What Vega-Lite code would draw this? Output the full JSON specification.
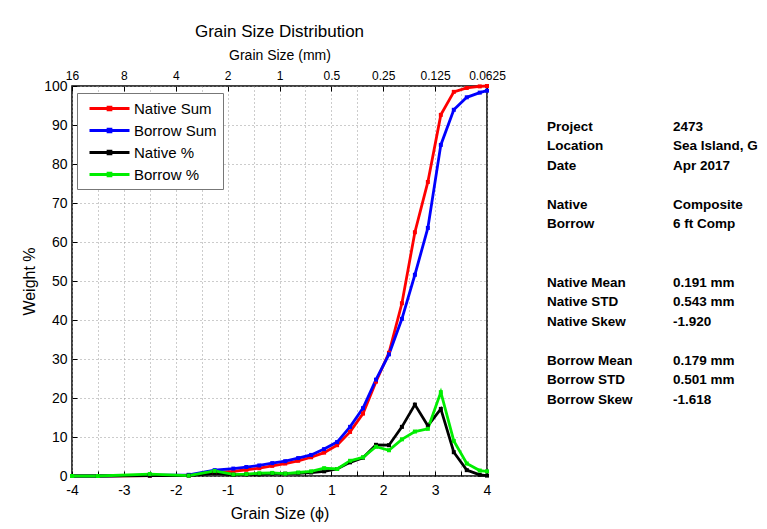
{
  "$schema": "https://vega.github.io/schema/vega-lite/v6.json",
  "padding": {"left": 20, "top": 22, "right": 0, "bottom": 0},
  "background": "white",
  "bounds": "flush",
  "spacing": 60,
  "config": {
    "font": "Liberation Sans",
    "view": {"stroke": null},
    "axis": {"labelColor": "black", "titleColor": "black", "titleFontWeight": "normal", "labelFont": "Liberation Sans", "titleFont": "Liberation Sans", "tickColor": "black", "tickWidth": 1}
  },
  "datasets": {
    "curves": [
      {"phi": -4, "series": "Native Sum", "value": 0},
      {"phi": -3.5, "series": "Native Sum", "value": 0},
      {"phi": -2.5, "series": "Native Sum", "value": 0.1},
      {"phi": -1.75, "series": "Native Sum", "value": 0.2},
      {"phi": -1.25, "series": "Native Sum", "value": 0.9},
      {"phi": -0.89, "series": "Native Sum", "value": 1.2},
      {"phi": -0.64, "series": "Native Sum", "value": 1.6},
      {"phi": -0.39, "series": "Native Sum", "value": 2.0},
      {"phi": -0.14, "series": "Native Sum", "value": 2.6},
      {"phi": 0.11, "series": "Native Sum", "value": 3.2},
      {"phi": 0.36, "series": "Native Sum", "value": 3.9},
      {"phi": 0.61, "series": "Native Sum", "value": 4.8},
      {"phi": 0.86, "series": "Native Sum", "value": 6.0},
      {"phi": 1.11, "series": "Native Sum", "value": 7.9},
      {"phi": 1.36, "series": "Native Sum", "value": 11.3},
      {"phi": 1.61, "series": "Native Sum", "value": 16.0},
      {"phi": 1.86, "series": "Native Sum", "value": 24.2},
      {"phi": 2.11, "series": "Native Sum", "value": 31.6},
      {"phi": 2.36, "series": "Native Sum", "value": 44.3},
      {"phi": 2.61, "series": "Native Sum", "value": 62.5},
      {"phi": 2.86, "series": "Native Sum", "value": 75.4},
      {"phi": 3.11, "series": "Native Sum", "value": 92.6},
      {"phi": 3.36, "series": "Native Sum", "value": 98.5},
      {"phi": 3.61, "series": "Native Sum", "value": 99.5},
      {"phi": 3.86, "series": "Native Sum", "value": 99.9},
      {"phi": 4, "series": "Native Sum", "value": 100},
      {"phi": -4, "series": "Borrow Sum", "value": 0},
      {"phi": -3.5, "series": "Borrow Sum", "value": 0},
      {"phi": -2.5, "series": "Borrow Sum", "value": 0.2},
      {"phi": -1.75, "series": "Borrow Sum", "value": 0.3},
      {"phi": -1.25, "series": "Borrow Sum", "value": 1.5},
      {"phi": -0.89, "series": "Borrow Sum", "value": 1.9},
      {"phi": -0.64, "series": "Borrow Sum", "value": 2.3},
      {"phi": -0.39, "series": "Borrow Sum", "value": 2.7},
      {"phi": -0.14, "series": "Borrow Sum", "value": 3.3},
      {"phi": 0.11, "series": "Borrow Sum", "value": 3.8},
      {"phi": 0.36, "series": "Borrow Sum", "value": 4.6},
      {"phi": 0.61, "series": "Borrow Sum", "value": 5.4},
      {"phi": 0.86, "series": "Borrow Sum", "value": 6.9},
      {"phi": 1.11, "series": "Borrow Sum", "value": 8.7},
      {"phi": 1.36, "series": "Borrow Sum", "value": 12.6},
      {"phi": 1.61, "series": "Borrow Sum", "value": 17.4},
      {"phi": 1.86, "series": "Borrow Sum", "value": 24.7},
      {"phi": 2.11, "series": "Borrow Sum", "value": 31.2},
      {"phi": 2.36, "series": "Borrow Sum", "value": 40.3},
      {"phi": 2.61, "series": "Borrow Sum", "value": 51.6},
      {"phi": 2.86, "series": "Borrow Sum", "value": 63.6},
      {"phi": 3.11, "series": "Borrow Sum", "value": 84.9},
      {"phi": 3.36, "series": "Borrow Sum", "value": 93.9},
      {"phi": 3.61, "series": "Borrow Sum", "value": 97.1},
      {"phi": 3.86, "series": "Borrow Sum", "value": 98.3},
      {"phi": 4, "series": "Borrow Sum", "value": 98.8},
      {"phi": -4, "series": "Native %", "value": 0},
      {"phi": -3.5, "series": "Native %", "value": 0},
      {"phi": -2.5, "series": "Native %", "value": 0.1},
      {"phi": -1.75, "series": "Native %", "value": 0.1},
      {"phi": -1.25, "series": "Native %", "value": 0.7},
      {"phi": -0.89, "series": "Native %", "value": 0.3},
      {"phi": -0.64, "series": "Native %", "value": 0.4},
      {"phi": -0.39, "series": "Native %", "value": 0.4},
      {"phi": -0.14, "series": "Native %", "value": 0.6},
      {"phi": 0.11, "series": "Native %", "value": 0.6},
      {"phi": 0.36, "series": "Native %", "value": 0.7},
      {"phi": 0.61, "series": "Native %", "value": 0.9},
      {"phi": 0.86, "series": "Native %", "value": 1.2},
      {"phi": 1.11, "series": "Native %", "value": 1.8},
      {"phi": 1.36, "series": "Native %", "value": 3.5},
      {"phi": 1.61, "series": "Native %", "value": 4.7},
      {"phi": 1.86, "series": "Native %", "value": 8.0},
      {"phi": 2.11, "series": "Native %", "value": 7.9},
      {"phi": 2.36, "series": "Native %", "value": 12.6},
      {"phi": 2.61, "series": "Native %", "value": 18.3},
      {"phi": 2.86, "series": "Native %", "value": 12.9},
      {"phi": 3.11, "series": "Native %", "value": 17.2},
      {"phi": 3.36, "series": "Native %", "value": 6.1},
      {"phi": 3.61, "series": "Native %", "value": 1.5},
      {"phi": 3.86, "series": "Native %", "value": 0.3},
      {"phi": 4, "series": "Native %", "value": 0.1},
      {"phi": -4, "series": "Borrow %", "value": 0},
      {"phi": -3.5, "series": "Borrow %", "value": 0},
      {"phi": -2.5, "series": "Borrow %", "value": 0.5},
      {"phi": -1.75, "series": "Borrow %", "value": 0.1},
      {"phi": -1.25, "series": "Borrow %", "value": 1.3},
      {"phi": -0.89, "series": "Borrow %", "value": 0.4},
      {"phi": -0.64, "series": "Borrow %", "value": 0.5},
      {"phi": -0.39, "series": "Borrow %", "value": 0.7},
      {"phi": -0.14, "series": "Borrow %", "value": 0.8},
      {"phi": 0.11, "series": "Borrow %", "value": 0.6},
      {"phi": 0.36, "series": "Borrow %", "value": 0.9},
      {"phi": 0.61, "series": "Borrow %", "value": 1.2},
      {"phi": 0.86, "series": "Borrow %", "value": 2.0},
      {"phi": 1.11, "series": "Borrow %", "value": 1.8},
      {"phi": 1.36, "series": "Borrow %", "value": 3.9},
      {"phi": 1.61, "series": "Borrow %", "value": 4.8},
      {"phi": 1.86, "series": "Borrow %", "value": 7.5},
      {"phi": 2.11, "series": "Borrow %", "value": 6.6},
      {"phi": 2.36, "series": "Borrow %", "value": 9.4},
      {"phi": 2.61, "series": "Borrow %", "value": 11.4},
      {"phi": 2.86, "series": "Borrow %", "value": 12.1},
      {"phi": 3.11, "series": "Borrow %", "value": 21.5},
      {"phi": 3.36, "series": "Borrow %", "value": 9.0},
      {"phi": 3.61, "series": "Borrow %", "value": 3.2},
      {"phi": 3.86, "series": "Borrow %", "value": 1.4},
      {"phi": 4, "series": "Borrow %", "value": 1.2}
    ],
    "info": [
      {"kind": "label", "line": 0, "text": "Project"},
      {"kind": "value", "line": 0, "text": "2473"},
      {"kind": "label", "line": 1, "text": "Location"},
      {"kind": "value", "line": 1, "text": "Sea Island, GA"},
      {"kind": "label", "line": 2, "text": "Date"},
      {"kind": "value", "line": 2, "text": "Apr 2017"},
      {"kind": "label", "line": 4, "text": "Native"},
      {"kind": "value", "line": 4, "text": "Composite"},
      {"kind": "label", "line": 5, "text": "Borrow"},
      {"kind": "value", "line": 5, "text": "6 ft Comp"},
      {"kind": "label", "line": 8, "text": "Native Mean"},
      {"kind": "value", "line": 8, "text": "\u00a00.191 mm"},
      {"kind": "label", "line": 9, "text": "Native STD"},
      {"kind": "value", "line": 9, "text": "\u00a00.543 mm"},
      {"kind": "label", "line": 10, "text": "Native Skew"},
      {"kind": "value", "line": 10, "text": "-1.920"},
      {"kind": "label", "line": 12, "text": "Borrow Mean"},
      {"kind": "value", "line": 12, "text": "\u00a00.179 mm"},
      {"kind": "label", "line": 13, "text": "Borrow STD"},
      {"kind": "value", "line": 13, "text": "\u00a00.501 mm"},
      {"kind": "label", "line": 14, "text": "Borrow Skew"},
      {"kind": "value", "line": 14, "text": "-1.618"}
    ]
  },
  "hconcat": [
    {
      "width": 415,
      "height": 390,
      "title": {"text": "Grain Size Distribution", "fontSize": 17, "fontWeight": "normal", "font": "Liberation Sans", "color": "black", "offset": 7, "anchor": "middle"},
      "view": {"stroke": "black", "strokeWidth": 1.5},
      "layer": [
        {
          "mark": {"type": "rule", "color": "black", "strokeWidth": 1.5},
          "encoding": {
            "x": {
              "datum": 0, "type": "quantitative",
              "scale": {"domain": [-4, 4], "nice": false, "zero": false},
              "axis": {"orient": "top", "values": [-4, -3, -2, -1, 0, 1, 2, 3, 4], "labelExpr": "'' + pow(2, -datum.value)", "title": "Grain Size (mm)", "grid": false, "ticks": true, "tickSize": -5, "domain": false, "labelFontSize": 12, "labelPadding": 9, "titleFontSize": 14, "titlePadding": 7, "labelFlush": false}
            }
          }
        },
        {
          "mark": {"type": "rule", "color": "black", "strokeWidth": 1.5},
          "encoding": {
            "y": {
              "datum": 50, "type": "quantitative",
              "scale": {"domain": [0, 100], "nice": false},
              "axis": {"values": [0, 10, 20, 30, 40, 50, 60, 70, 80, 90, 100], "title": "Weight %", "grid": true, "gridDash": [1, 3], "gridColor": "#999999", "ticks": true, "tickSize": -5, "domain": false, "labelFontSize": 14, "labelPadding": 10, "titleFontSize": 16, "titlePadding": 6, "labelFlush": false}
            }
          }
        },
        {
          "data": {"name": "curves"},
          "mark": {"type": "line", "strokeWidth": 2.8, "point": {"filled": true, "size": 16, "shape": "square"}},
          "encoding": {
            "x": {
              "field": "phi", "type": "quantitative",
              "scale": {"domain": [-4, 4], "nice": false, "zero": false},
              "axis": {"orient": "bottom", "values": [-4, -3.5, -3, -2.5, -2, -1.5, -1, -0.5, 0, 0.5, 1, 1.5, 2, 2.5, 3, 3.5, 4], "labelExpr": "datum.value % 1 == 0 ? '' + datum.value : ''", "title": "Grain Size (\u03d5)", "grid": true, "gridDash": [1, 3], "gridColor": "#999999", "ticks": true, "tickSize": -5, "domain": false, "labelFontSize": 14, "labelPadding": 12, "titleFontSize": 16, "titlePadding": 8, "labelFlush": false}
            },
            "y": {
              "field": "value", "type": "quantitative",
              "scale": {"domain": [0, 100], "nice": false},
              "axis": {"values": [0, 10, 20, 30, 40, 50, 60, 70, 80, 90, 100], "title": "Weight %", "grid": true, "gridDash": [1, 3], "gridColor": "#999999", "ticks": true, "tickSize": -5, "domain": false, "labelFontSize": 14, "labelPadding": 10, "titleFontSize": 16, "titlePadding": 6, "labelFlush": false}
            },
            "color": {
              "field": "series", "type": "nominal",
              "scale": {"domain": ["Native Sum", "Borrow Sum", "Native %", "Borrow %"], "range": ["#ff0000", "#0000ff", "#000000", "#00ee00"]},
              "legend": {"title": null, "orient": "none", "legendX": 5, "legendY": 7, "symbolType": "M-2.5,0H2.5M-0.18,-0.18H0.18V0.18H-0.18Z", "symbolSize": 256, "symbolStrokeWidth": 2.8, "labelFontSize": 15, "labelColor": "black", "labelFont": "Liberation Sans", "fillColor": "white", "strokeColor": "#777777", "padding": 6, "rowPadding": 4, "labelOffset": 15, "symbolOffset": 17}
            }
          }
        }
      ],
      "resolve": {"axis": {"x": "independent"}}
    },
    {
      "width": 126,
      "height": 390,
      "data": {"name": "info"},
      "mark": {"type": "text", "align": "left", "baseline": "middle", "fontSize": 13.5, "fontWeight": "bold", "font": "Liberation Sans", "color": "black", "limit": 93, "ellipsis": "\u200b"},
      "encoding": {
        "x": {"field": "kind", "type": "nominal", "scale": {"type": "point", "domain": ["label", "value"], "padding": 0}, "axis": null},
        "y": {"field": "line", "type": "quantitative", "scale": {"domain": [-2.1, 17.9], "reverse": true, "nice": false, "zero": false}, "axis": null},
        "text": {"field": "text"}
      }
    }
  ]
}
